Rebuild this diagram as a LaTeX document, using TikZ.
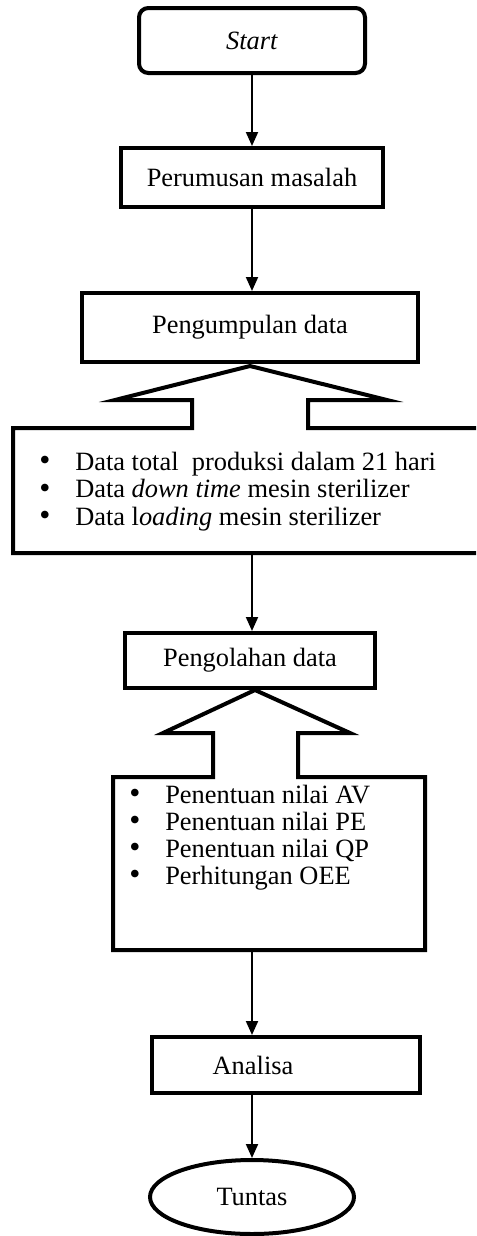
\documentclass[tikz,border=0pt]{standalone}
\usepackage{fontspec}
\setmainfont{Liberation Serif}
\usetikzlibrary{arrows.meta,shapes.geometric}

\newcommand{\bulletitem}{\makebox[27pt][l]{\raisebox{-0.6pt}{\scalebox{1.2}{\textbullet}}}}

\begin{document}
\begin{tikzpicture}[x=0.75pt,y=-0.75pt,
  every node/.style={font=\fontsize{19.8}{20.6}\selectfont},
  box/.style={draw,line width=3pt,inner sep=0pt,rectangle},
  roundbox/.style={box,rounded corners=7pt},
  endbox/.style={draw,line width=3pt,ellipse,inner sep=0pt},
  outline/.style={draw,line width=3pt,line join=miter},
  arr/.style={line width=1.5pt,-{Triangle[length=10.5pt,width=9pt]}},
  item/.style={anchor=base west,inner sep=0pt,text height=14pt,text depth=4pt}
]
\useasboundingbox (0,0) rectangle (476,1236);
\clip (0,0) rectangle (476,1236);

% process steps
\node[roundbox,minimum width=169.5pt,minimum height=48.75pt] (start) at (252,40.5) {\textit{Start}};
\node[box,minimum width=196.5pt,minimum height=44.25pt] (rumus) at (252,177.5) {Perumusan masalah};
\node[box,minimum width=252pt,minimum height=51.75pt] (kumpul) at (250,327.5) {Pengumpulan data};

% data collected: block arrow merged with the list frame
\draw[outline] (13,428) -- (192,428) -- (192,400) -- (115,400) -- (250,366)
  -- (387,400) -- (308,400) -- (308,428) -- (495,428) -- (495,553) -- (13,553) -- cycle;
\node[item] (d1) at (39,470) {\bulletitem Data total\ \ produksi dalam 21 hari};
\node[item] (d2) at (39,497.5) {\bulletitem Data \textit{down time} mesin sterilizer};
\node[item] (d3) at (39,525) {\bulletitem Data l\textit{oading} mesin sterilizer};
\coordinate (l1b) at (252,553);

\node[box,minimum width=187.5pt,minimum height=41.25pt] (olah) at (250,660.5) {Pengolahan data};

% processing results: block arrow merged with the list frame
\draw[outline] (113,777) -- (213,777) -- (213,733) -- (163,733) -- (255,690)
  -- (350,733) -- (298,733) -- (298,777) -- (425,777) -- (425,950) -- (113,950) -- cycle;
\node[item] (p1) at (129,803) {\bulletitem Penentuan nilai AV};
\node[item] (p2) at (129,830) {\bulletitem Penentuan nilai PE};
\node[item] (p3) at (129,857) {\bulletitem Penentuan nilai QP};
\node[item] (p4) at (129,884) {\bulletitem Perhitungan OEE};
\coordinate (l2b) at (252,950);

\node[box,minimum width=201pt,minimum height=42pt] (analisa) at (286,1065) {};
\node (analisatxt) at (253,1065) {Analisa};
\node[endbox,minimum width=153pt,minimum height=55.5pt] (tuntas) at (252,1197) {Tuntas};

% flow connectors
\draw[arr] (start.south -| 252,0) -- (rumus.north -| 252,0);
\draw[arr] (rumus.south -| 252,0) -- (kumpul.north -| 252,0);
\draw[arr] (l1b) -- (l1b |- olah.north);
\draw[arr] (l2b) -- (l2b |- analisa.north);
\draw[arr] (analisa.south -| 252,0) -- (tuntas.north);
\end{tikzpicture}
\end{document}
